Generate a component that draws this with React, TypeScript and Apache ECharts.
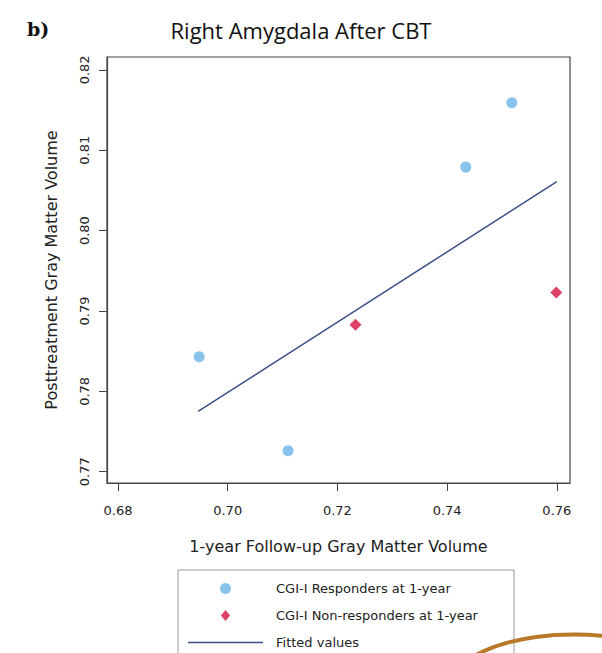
import React, { useEffect, useRef } from "react";
import * as echarts from "echarts";

const xTicks = [0.68, 0.7, 0.72, 0.74, 0.76];
const yTicks = [0.77, 0.78, 0.79, 0.8, 0.81, 0.82];
const respX = [0.6948, 0.711, 0.7434, 0.7518];
const respY = [0.7843, 0.7726, 0.8079, 0.8159];
const nonX = [0.7233, 0.7599];
const nonY = [0.7883, 0.7923];
const fitX = [0.6946, 0.76];
const fitY = [0.7775, 0.8061];
const seriesNames = [
  "CGI-I Responders at 1-year",
  "CGI-I Non-responders at 1-year",
  "Fitted values",
];

const BLUE = "#6cb4e8";
const RED = "#d4123f";
const NAVY = "#3b4f86";
const FONT = "DejaVu Sans";

export default function App() {
  const ref = useRef<HTMLDivElement>(null);
  useEffect(() => {
    if (!ref.current) return;
    const chart = echarts.init(ref.current, null, { renderer: "svg" });
    const zip = (a: number[], b: number[]) => a.map((v, i) => [v, b[i]]);
    chart.setOption({
      animation: false,
      backgroundColor: "#fff",
      title: {
        text: "Right Amygdala After CBT",
        left: "center",
        top: 14,
        textStyle: {
          fontFamily: "Open Sans",
          fontSize: 22,
          fontWeight: "normal",
          color: "#111",
        },
      },
      graphic: [
        {
          type: "text",
          left: 27,
          top: 19,
          style: {
            text: "b)",
            fontFamily: "DejaVu Serif",
            fontWeight: "bold",
            fontSize: 19,
            fill: "#111",
          },
        },
        {
          type: "rect",
          shape: { x: 178, y: 570, width: 336, height: 100 },
          style: { fill: "none", stroke: "#999", lineWidth: 1 },
          silent: true,
        },
        {
          type: "bezierCurve",
          shape: {
            x1: 474,
            y1: 656,
            cpx1: 510,
            cpy1: 636,
            cpx2: 560,
            cpy2: 632,
            x2: 604,
            y2: 636,
          },
          style: { stroke: "#b87a2a", lineWidth: 4, fill: "none" },
          silent: true,
        },
      ],
      legend: {
        orient: "vertical",
        left: 188,
        top: 582,
        padding: 0,
        itemWidth: 75,
        itemHeight: 11,
        itemGap: 14,
        textStyle: {
          fontFamily: FONT,
          fontSize: 13,
          color: "#222",
          padding: [0, 0, 0, 8],
        },
        data: [
          { name: seriesNames[0], icon: "circle" },
          { name: seriesNames[1], icon: "path://M5,0L10,6L5,12L0,6Z" },
          {
            name: seriesNames[2],
            icon: "path://M0,0L75,0L75,1.5L0,1.5Z",
          },
        ],
      },
      grid: {
        left: 107,
        top: 57,
        right: 32,
        bottom: 170,
        show: true,
        borderColor: "#444",
        borderWidth: 1.2,
      },
      xAxis: {
        type: "value",
        min: 0.678,
        max: 0.7624,
        name: "1-year Follow-up Gray Matter Volume",
        nameLocation: "middle",
        nameGap: 55,
        nameTextStyle: {
          fontFamily: FONT,
          fontSize: 16,
          color: "#222",
        },
        axisLine: { show: true, lineStyle: { color: "#444", width: 1.2 } },
        axisTick: {
          show: true,
          length: 8,
          customValues: xTicks,
          lineStyle: { color: "#444" },
        },
        axisLabel: {
          customValues: xTicks,
          margin: 21,
          fontFamily: FONT,
          fontSize: 13,
          color: "#222",
          formatter: (v: number) => v.toFixed(2),
        },
        splitLine: { show: false },
      },
      yAxis: {
        type: "value",
        min: 0.7686,
        max: 0.8216,
        name: "Posttreatment Gray Matter Volume",
        nameLocation: "middle",
        nameGap: 48,
        nameTextStyle: {
          fontFamily: FONT,
          fontSize: 16,
          color: "#222",
        },
        axisLine: { show: true, lineStyle: { color: "#444", width: 1.2 } },
        axisTick: {
          show: true,
          length: 8,
          customValues: yTicks,
          lineStyle: { color: "#444" },
        },
        axisLabel: {
          customValues: yTicks,
          rotate: 90,
          margin: 16,
          fontFamily: FONT,
          fontSize: 13,
          color: "#222",
          formatter: (v: number) => v.toFixed(2),
        },
        splitLine: { show: false },
      },
      series: [
        {
          name: seriesNames[0],
          type: "scatter",
          symbol: "circle",
          symbolSize: 11,
          itemStyle: { color: BLUE },
          data: zip(respX, respY),
        },
        {
          name: seriesNames[1],
          type: "scatter",
          symbol: "diamond",
          symbolSize: 12,
          itemStyle: { color: RED },
          data: zip(nonX, nonY),
        },
        {
          name: seriesNames[2],
          type: "line",
          symbol: "none",
          lineStyle: { color: NAVY, width: 1.5 },
          itemStyle: { color: NAVY },
          data: zip(fitX, fitY),
        },
      ],
    });
    return () => chart.dispose();
  }, []);
  return (
    <div
      ref={ref}
      style={{ position: "fixed", left: 0, top: 0, width: 602, height: 653 }}
    />
  );
}
